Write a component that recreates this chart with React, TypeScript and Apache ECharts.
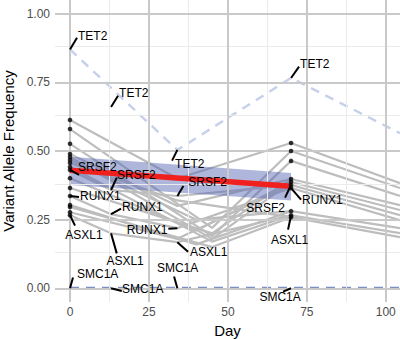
import React, { useEffect, useRef } from 'react';
import * as echarts from 'echarts';

// ---- axis ticks ----
const xTicks = [0, 25, 50, 75, 100];
const xMinor = [12.5, 37.5, 62.5, 87.5];
const yTicks = [0, 0.25, 0.5, 0.75, 1];
const yMinor = [0.125, 0.375, 0.625, 0.875];

// ---- sample dots ----
const day0Dots = [0.613, 0.58, 0.526, 0.489, 0.478, 0.467, 0.456, 0.442, 0.431, 0.401, 0.365, 0.336, 0.303, 0.296, 0.277, 0.266];
const day70Dots = [0.529, 0.5, 0.464, 0.398, 0.387, 0.376, 0.365, 0.281, 0.266, 0.259];

// ---- grey trajectories: [day, VAF] ----
const trajectories: number[][][] = [
  [[0, 0.613], [34, 0.40], [70, 0.529], [104.5, 0.383]],
  [[0, 0.58], [45, 0.22], [70, 0.5], [104.5, 0.365]],
  [[0, 0.526], [45, 0.19], [70, 0.464], [104.5, 0.336]],
  [[0, 0.489], [34, 0.30], [70, 0.398], [104.5, 0.303]],
  [[0, 0.478], [45, 0.18], [70, 0.387], [104.5, 0.285]],
  [[0, 0.467], [40, 0.25], [70, 0.281], [104.5, 0.219]],
  [[0, 0.456], [34, 0.32], [70, 0.259], [104.5, 0.186]],
  [[0, 0.442], [45, 0.17], [70, 0.266], [104.5, 0.201]],
  [[0, 0.431], [13, 0.358], [34, 0.336], [70, 0.376], [104.5, 0.266]],
  [[0, 0.401], [40, 0.21], [70, 0.387]],
  [[0, 0.365], [45, 0.20], [70, 0.398]],
  [[0, 0.336], [13, 0.27], [34, 0.219], [70, 0.365], [104.5, 0.248]],
  [[0, 0.303], [40, 0.16], [70, 0.281]],
  [[0, 0.296], [45, 0.15], [70, 0.259]],
  [[0, 0.277], [34, 0.18], [70, 0.376]],
  [[0, 0.266], [13, 0.2], [34, 0.168], [70, 0.266]],
];

// ---- dashed gene trends ----
const tet2Trend = [[0, 0.87], [34, 0.504], [70, 0.766], [104.5, 0.565]];
const smc1aTrend = [[0, 0], [13, 0], [34, 0], [70, 0], [104.5, 0]];

// ---- SRSF2 fit and confidence band ----
const fitDays = [0, 70];
const fitValues = [0.43, 0.372];
const ciLower = [0.376, 0.32];
const ciUpper = [0.479, 0.42];

// ---- labelled points ----
const labelGenes = ['TET2', 'TET2', 'TET2', 'TET2', 'SRSF2', 'SRSF2', 'SRSF2', 'SRSF2', 'RUNX1', 'RUNX1', 'RUNX1', 'RUNX1', 'ASXL1', 'ASXL1', 'ASXL1', 'ASXL1', 'SMC1A', 'SMC1A', 'SMC1A', 'SMC1A'];
const labelDays = [0, 13, 34, 70, 0, 13, 34, 70, 0, 13, 34, 70, 0, 13, 34, 70, 0, 13, 34, 70];
const labelValues = [0.87, 0.66, 0.504, 0.766, 0.431, 0.358, 0.336, 0.376, 0.336, 0.27, 0.219, 0.365, 0.266, 0.2, 0.168, 0.266, 0, 0, 0, 0];

// label layout (pixels): segment end dx, dy; text dx, dy; alignment
const labelLayout: [number, number, number, number, string][] = [
  [7, -11.7, 8, -13.7, 'left'],
  [7, -11.4, 8, -14.4, 'left'],
  [-5.3, 10.7, -2.3, 13.7, 'left'],
  [8, -11.3, 9, -14.3, 'left'],
  [9, 5, 8, -3, 'left'],
  [5.7, -12.4, 6, -15, 'left'],
  [6, -10, 11, -14, 'left'],
  [-6, 12.6, -6, 22.6, 'right'],
  [9, 1, 10, 0, 'left'],
  [10, -5.5, 11, -7.5, 'left'],
  [-9, 0.5, -10, 1.5, 'right'],
  [10, 11.6, 11, 11.6, 'left'],
  [5, 10.4, 14, 19.4, 'center'],
  [5.7, 20, 14, 28, 'center'],
  [10.7, 9.5, 12.7, 9.5, 'left'],
  [-3, 14.4, -1.5, 24.4, 'center'],
  [3, -10.7, 7, -14.7, 'left'],
  [10.7, 2.8, 11, 0.3, 'left'],
  [-3.3, -11.7, 0.2, -20.7, 'center'],
  [-8, 3.3, -11, 8.3, 'center'],
];

const FONT = '"Liberation Sans", Arial, Helvetica, sans-serif';

export default function App() {
  const ref = useRef<HTMLDivElement>(null);
  useEffect(() => {
    if (!ref.current) return;
    const chart = echarts.init(ref.current, undefined, { renderer: 'svg' });

    const gridSeries = (axis: 'xAxis' | 'yAxis', vals: number[], color: string, width: number, z: number) => ({
      type: 'line',
      data: [[-100, -100]],
      showSymbol: false,
      lineStyle: { width: 0 },
      silent: true,
      z,
      markLine: {
        silent: true,
        symbol: ['none', 'none'],
        label: { show: false },
        animation: false,
        data: vals.map((v) => ({ [axis]: v, lineStyle: { color, width, type: 'solid' } })),
      },
    });

    const series: any[] = [
      gridSeries('xAxis', xMinor, '#ebebeb', 1, 0),
      gridSeries('yAxis', yMinor, '#ebebeb', 1, 0),
      gridSeries('xAxis', xTicks, '#c9c9c9', 2, 1),
      gridSeries('yAxis', yTicks, '#c9c9c9', 2, 1),
    ];

    trajectories.forEach((t) => {
      series.push({
        type: 'line',
        data: t,
        showSymbol: false,
        silent: true,
        lineStyle: { color: '#bdbdbd', width: 2.2 },
        z: 2,
      });
    });

    series.push({
      type: 'line',
      data: tet2Trend,
      showSymbol: false,
      silent: true,
      lineStyle: { color: '#c6cfeb', width: 2.4, type: [9, 7] },
      z: 3,
    });
    series.push({
      type: 'line',
      data: smc1aTrend,
      showSymbol: false,
      silent: true,
      lineStyle: { color: '#7d8ec4', width: 3, type: [9, 7] },
      z: 3,
    });

    series.push({
      type: 'custom',
      data: [[fitDays[0], fitValues[0]]],
      silent: true,
      z: 4,
      renderItem: (_p: any, api: any) => {
        const pts = [
          api.coord([fitDays[0], ciUpper[0]]),
          api.coord([fitDays[1], ciUpper[1]]),
          api.coord([fitDays[1], ciLower[1]]),
          api.coord([fitDays[0], ciLower[0]]),
        ];
        return { type: 'polygon', shape: { points: pts }, style: { fill: 'rgba(85,105,180,0.48)' } };
      },
    });

    series.push({
      type: 'line',
      data: fitDays.map((d, i) => [d, fitValues[i]]),
      showSymbol: false,
      silent: true,
      lineStyle: { color: '#f0201e', width: 5.5 },
      z: 5,
    });

    series.push({
      type: 'scatter',
      data: [...day0Dots.map((v) => [0, v]), ...day70Dots.map((v) => [70, v])],
      symbolSize: 4.6,
      itemStyle: { color: '#000' },
      silent: true,
      z: 6,
    });

    series.push({
      type: 'custom',
      data: labelDays.map((d, i) => [d, labelValues[i]]),
      silent: true,
      z: 10,
      renderItem: (params: any, api: any) => {
        const i = params.dataIndex;
        const p = api.coord([api.value(0), api.value(1)]);
        const o = labelLayout[i];
        return {
          type: 'group',
          children: [
            {
              type: 'line',
              shape: { x1: p[0], y1: p[1], x2: p[0] + o[0], y2: p[1] + o[1] },
              style: { stroke: '#000', lineWidth: 2 },
            },
            {
              type: 'text',
              x: p[0] + o[2],
              y: p[1] + o[3],
              style: {
                text: labelGenes[i],
                fill: '#000',
                fontSize: 12,
                fontFamily: FONT,
                align: o[4],
                verticalAlign: 'middle',
              },
            },
          ],
        };
      },
    });

    chart.setOption({
      animation: false,
      grid: { left: 55, right: 0, top: 0, bottom: 37, containLabel: false, outerBoundsMode: 'none' },
      xAxis: {
        type: 'value',
        min: -4.75,
        max: 104.5,
        axisLine: { show: false },
        axisTick: { show: false },
        splitLine: { show: false },
        axisLabel: {
          customValues: xTicks,
          color: '#4d4d4d',
          fontSize: 12,
          fontFamily: FONT,
          margin: 4,
        },
        name: 'Day',
        nameLocation: 'middle',
        nameGap: 17,
        nameTextStyle: { color: '#000', fontSize: 15, fontFamily: FONT },
      },
      yAxis: {
        type: 'value',
        min: -0.05,
        max: 1.05,
        axisLine: { show: false },
        axisTick: { show: false },
        splitLine: { show: false },
        axisLabel: {
          customValues: yTicks,
          formatter: (v: number) => v.toFixed(2),
          color: '#4d4d4d',
          fontSize: 12,
          fontFamily: FONT,
          margin: 5,
        },
        name: 'Variant Allele Frequency',
        nameLocation: 'middle',
        nameGap: 33,
        nameTextStyle: { color: '#000', fontSize: 15, fontFamily: FONT },
      },
      series,
    });

    return () => chart.dispose();
  }, []);

  return <div ref={ref} style={{ position: 'fixed', left: 0, top: 0, width: 400, height: 339, background: '#fff' }} />;
}
